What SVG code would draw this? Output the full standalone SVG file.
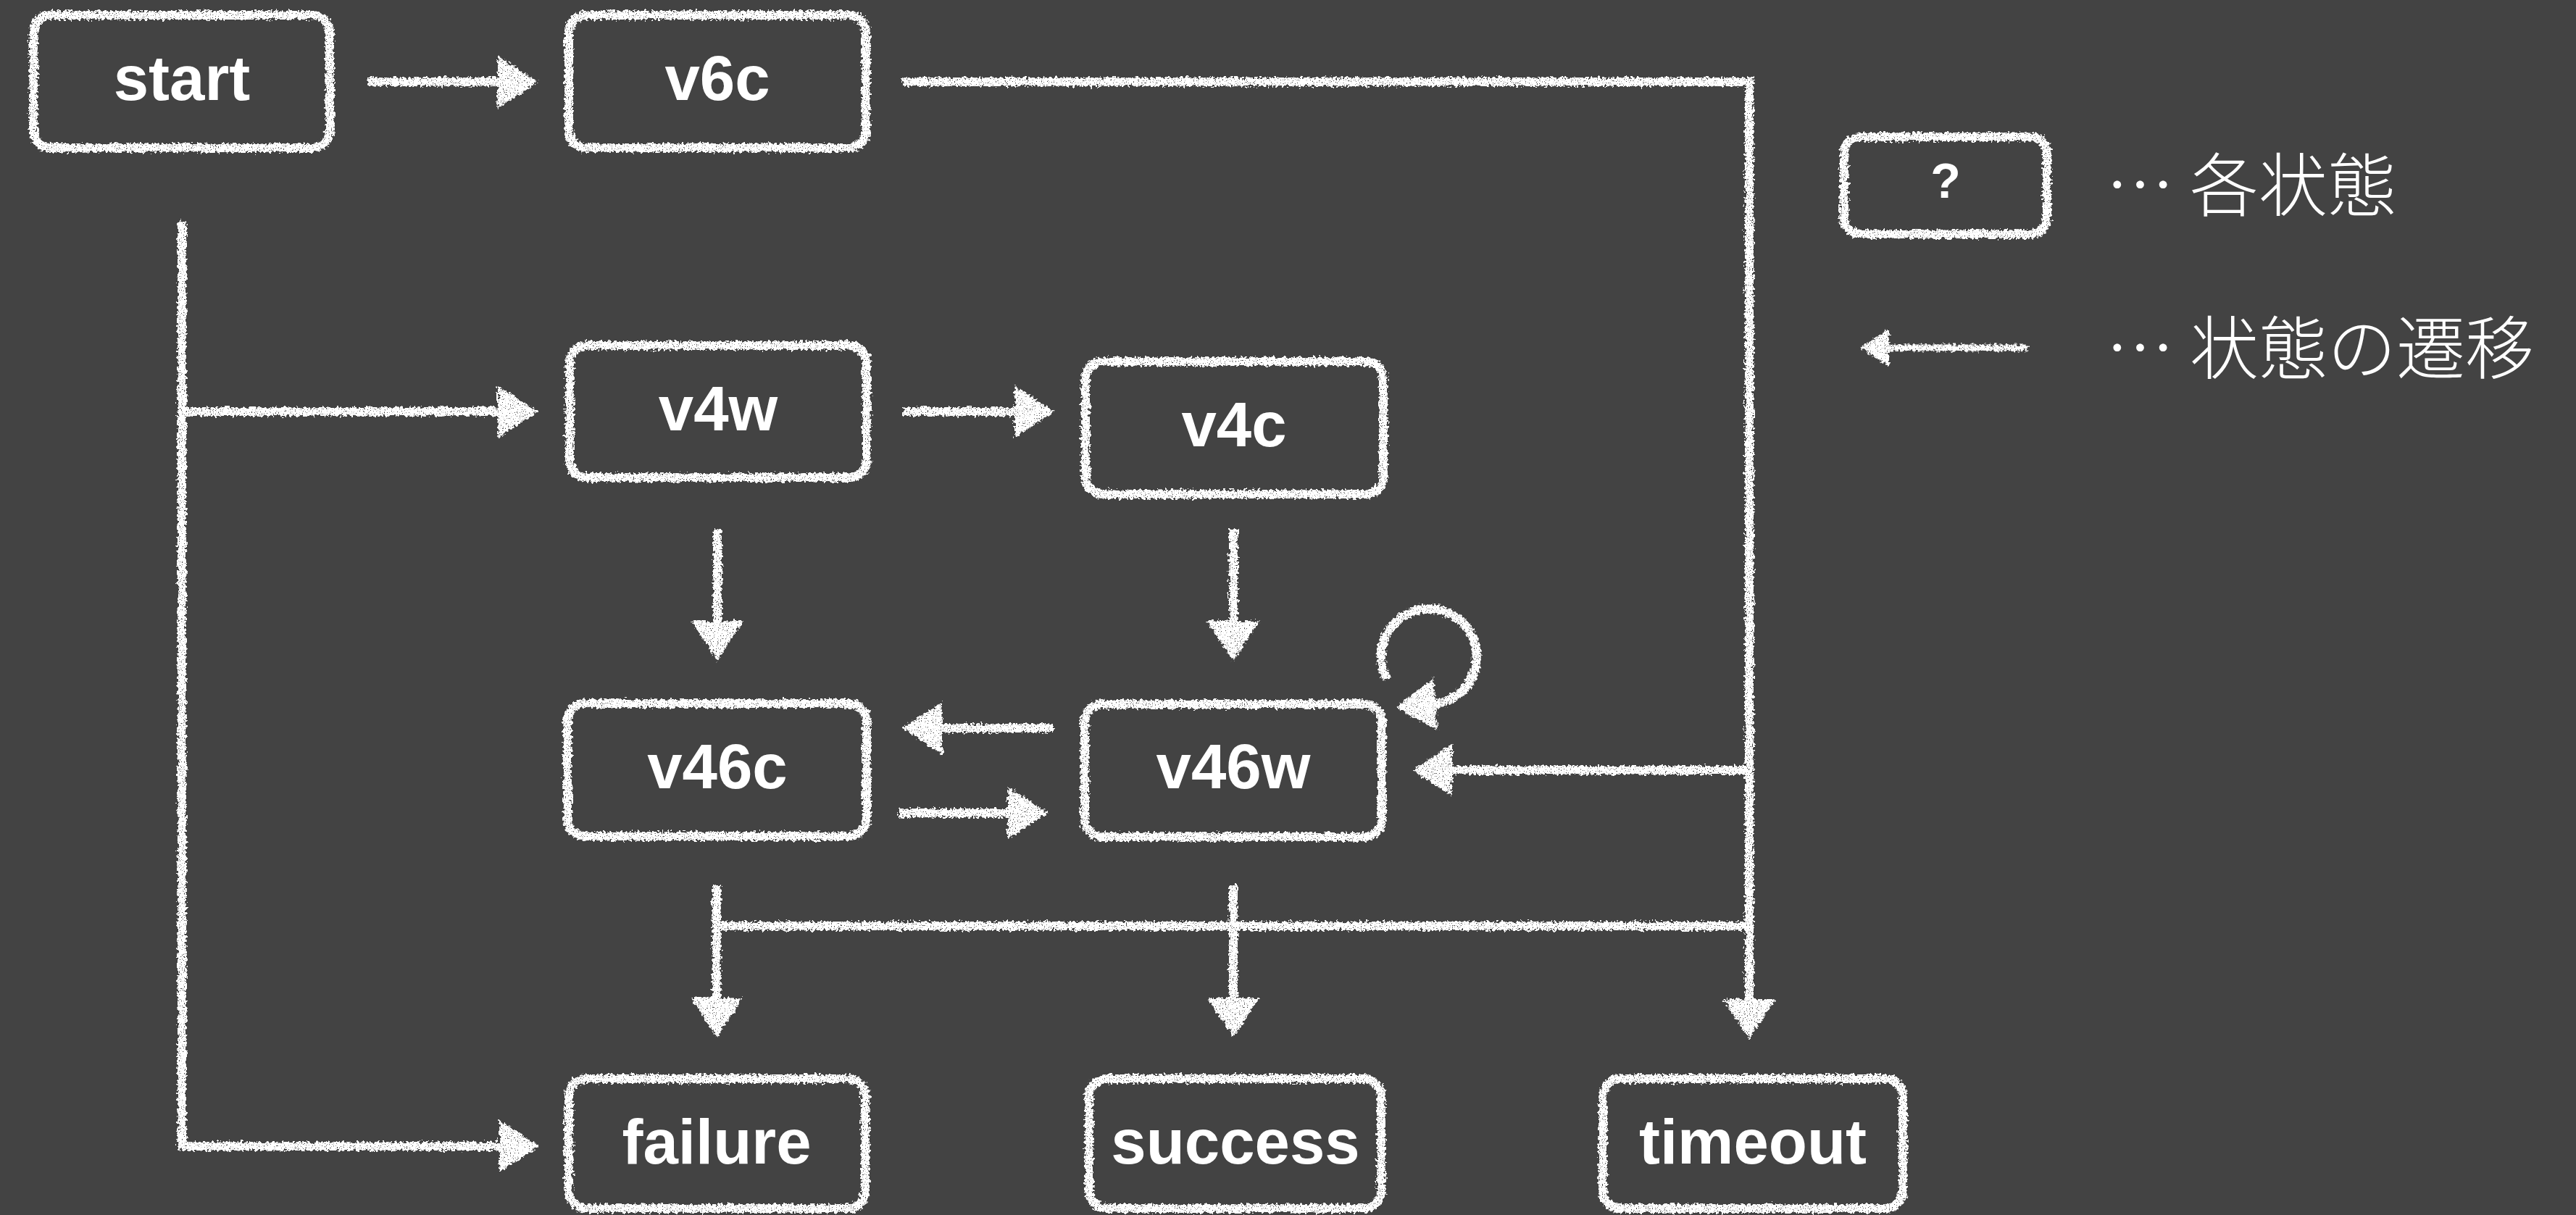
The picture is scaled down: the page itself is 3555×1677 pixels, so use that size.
<svg xmlns="http://www.w3.org/2000/svg" width="3555" height="1677" viewBox="0 0 3555 1677">
  <style>
    .box { fill: none; stroke: #ffffff; stroke-width: 12; filter: url(#chalk); }
    .label { font-family: "Liberation Sans", Arial, sans-serif; font-weight: 700; font-size: 87px; fill: #ffffff; text-anchor: middle; }
    .wire { fill: none; stroke: #ffffff; stroke-width: 12; stroke-linejoin: miter; }
    .arrow { marker-end: url(#head); }
    .legend-text { font-family: "Noto Sans CJK JP", "Noto Sans CJK SC", sans-serif; font-weight: 300; font-size: 95px; fill: #ffffff; }
  </style>
  <defs>
    <!-- chalk look: rough edges from displacement, grain from a noise mask -->
    <filter id="chalk" x="-10%" y="-10%" width="120%" height="120%">
      <feTurbulence type="fractalNoise" baseFrequency="0.25" numOctaves="3" seed="4" result="n1"/>
      <feDisplacementMap in="SourceGraphic" in2="n1" scale="10" xChannelSelector="R" yChannelSelector="G" result="d"/>
      <feTurbulence type="fractalNoise" baseFrequency="0.7" numOctaves="2" seed="9" result="n2"/>
      <feColorMatrix in="n2" type="matrix" values="0 0 0 0 1  0 0 0 0 1  0 0 0 0 1  9 0 0 0 -2.3" result="m"/>
      <feComposite in="d" in2="m" operator="in"/>
    </filter>
    <filter id="chalk-wide" filterUnits="userSpaceOnUse" x="0" y="0" width="3555" height="1677">
      <feTurbulence type="fractalNoise" baseFrequency="0.25" numOctaves="3" seed="4" result="n1"/>
      <feDisplacementMap in="SourceGraphic" in2="n1" scale="10" xChannelSelector="R" yChannelSelector="G" result="d"/>
      <feTurbulence type="fractalNoise" baseFrequency="0.7" numOctaves="2" seed="9" result="n2"/>
      <feColorMatrix in="n2" type="matrix" values="0 0 0 0 1  0 0 0 0 1  0 0 0 0 1  9 0 0 0 -2.3" result="m"/>
      <feComposite in="d" in2="m" operator="in"/>
    </filter>
    <marker id="head" markerUnits="userSpaceOnUse" markerWidth="60" markerHeight="80" refX="3" refY="38" orient="auto" overflow="visible">
      <path d="M0,2 L55,38 L0,74 Z" fill="#ffffff"/>
    </marker>
    <marker id="head-small" markerUnits="userSpaceOnUse" markerWidth="44" markerHeight="56" refX="2" refY="27" orient="auto" overflow="visible">
      <path d="M0,1 L40,27 L0,53 Z" fill="#ffffff"/>
    </marker>
  </defs>

  <rect x="0" y="0" width="3555" height="1677" fill="#434343"/>

  <!-- transitions -->
  <g id="connectors" filter="url(#chalk-wide)">
    <path class="wire arrow" d="M507,113 H690"/>
    <path class="wire arrow" d="M1245,113 H2414 V1382"/>
    <path class="wire arrow" d="M2414,1063 H2001"/>
    <path class="wire arrow" d="M251,305 V1582 H692"/>
    <path class="wire arrow" d="M251,568 H690"/>
    <path class="wire arrow" d="M1247,568 H1403"/>
    <path class="wire arrow" d="M990,730 V860"/>
    <path class="wire arrow" d="M1702,730 V860"/>
    <path class="wire arrow" d="M1455,1005 H1297"/>
    <path class="wire arrow" d="M1240,1122 H1394"/>
    <path class="wire" d="M984,1278 H2414"/>
    <path class="wire arrow" d="M989,1221 V1380"/>
    <path class="wire arrow" d="M1702,1221 V1380"/>
    <path class="wire arrow" d="M1914,938 A66,66 0 1 1 1978,972"/>
    <path class="wire" style="stroke-width:9" marker-end="url(#head-small)" d="M2799,480 H2605"/>
  </g>

  <!-- states -->
  <g id="node-start">
    <rect class="box" x="46" y="21" width="409" height="183" rx="24"/>
    <text class="label" x="251" y="138">start</text>
  </g>
  <g id="node-v6c">
    <rect class="box" x="785" y="21" width="410" height="183" rx="24"/>
    <text class="label" x="990" y="138">v6c</text>
  </g>
  <g id="node-v4w">
    <rect class="box" x="786" y="477" width="410" height="182" rx="24"/>
    <text class="label" x="991" y="594">v4w</text>
  </g>
  <g id="node-v4c">
    <rect class="box" x="1498" y="499" width="411" height="183" rx="24"/>
    <text class="label" x="1703" y="616">v4c</text>
  </g>
  <g id="node-v46c">
    <rect class="box" x="783" y="971" width="413" height="183" rx="24"/>
    <text class="label" x="990" y="1088">v46c</text>
  </g>
  <g id="node-v46w">
    <rect class="box" x="1497" y="972" width="410" height="183" rx="24"/>
    <text class="label" x="1702" y="1088">v46w</text>
  </g>
  <g id="node-failure">
    <rect class="box" x="785" y="1489" width="409" height="179" rx="24"/>
    <text class="label" x="989" y="1606">failure</text>
  </g>
  <g id="node-success">
    <rect class="box" x="1503" y="1489" width="403" height="179" rx="24"/>
    <text class="label" x="1705" y="1606">success</text>
  </g>
  <g id="node-timeout">
    <rect class="box" x="2212" y="1489" width="414" height="179" rx="24"/>
    <text class="label" x="2419" y="1606">timeout</text>
  </g>

  <!-- legend -->
  <g id="legend-state">
    <rect class="box" x="2545" y="189" width="280" height="134" rx="22"/>
    <text class="label" x="2685" y="273" style="font-size:68px">?</text>
    <text class="legend-text" x="2906" y="291">… 各状態</text>
  </g>
  <g id="legend-transition">
    <text class="legend-text" x="2906" y="516">… 状態の遷移</text>
  </g>
</svg>
